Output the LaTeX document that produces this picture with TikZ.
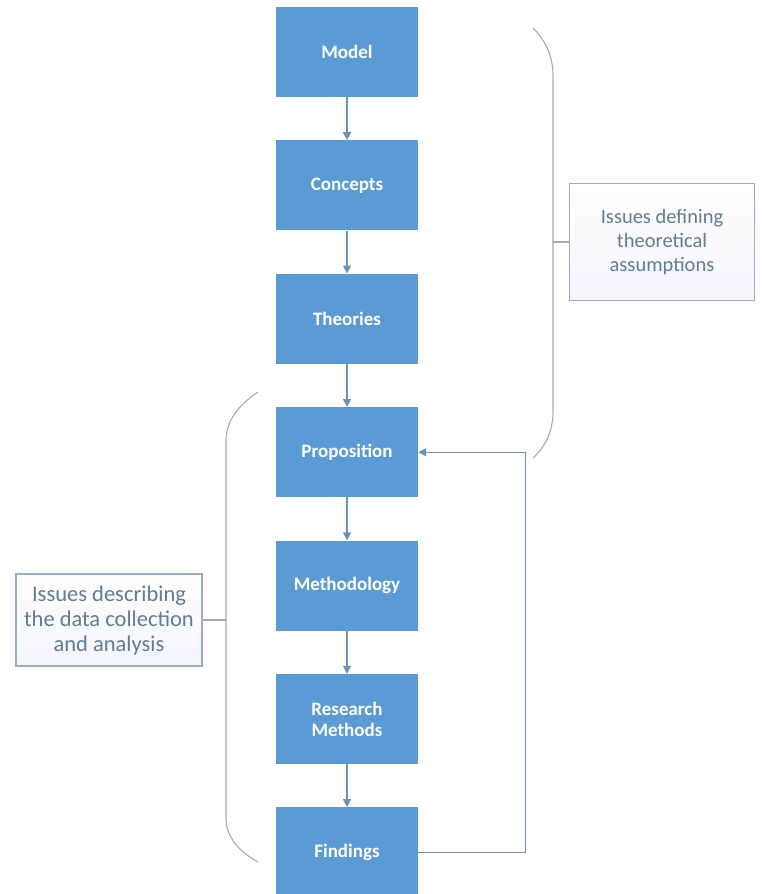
\documentclass[tikz,border=0pt]{standalone}
\usepackage{fontspec}
\setmainfont{Carlito}
\usetikzlibrary{arrows.meta,positioning,calc}
\definecolor{stageblue}{RGB}{91,155,213}
\definecolor{flowgrey}{RGB}{110,145,185}
\definecolor{bracegrey}{RGB}{170,170,170}
\definecolor{noteline}{RGB}{150,175,198}
\definecolor{notetext}{RGB}{95,125,150}

\begin{document}
\begin{tikzpicture}[x=1pt,y=-1pt,node distance=43pt,
   stage/.style={fill=stageblue,minimum width=142pt,minimum height=90pt,
                 align=center,text=white,font=\fontsize{19}{21}\selectfont\bfseries},
   flow/.style={-{Triangle[length=8pt,width=8pt]},draw=flowgrey,line width=1.3pt},
   brace/.style={draw=bracegrey,line width=1.1pt},
   note/.style={draw=noteline,line width=1.1pt,top color=white,bottom color=blue!4,
                align=center,text=notetext}]
  \useasboundingbox (0,0) rectangle (761,894);
  \node[stage] (model) at (347,52) {Model};
  \node[stage,below=of model] (concepts) {Concepts};
  \node[stage,below=of concepts] (theories) {Theories};
  \node[stage,below=of theories] (prop) {Proposition};
  \node[stage,below=of prop] (method) {Methodology};
  \node[stage,below=of method] (resmeth) {Research\\Methods};
  \node[stage,below=of resmeth] (findings) {Findings};
  \draw[flow] (model) -- (concepts);
  \draw[flow] (concepts) -- (theories);
  \draw[flow] (theories) -- (prop);
  \draw[flow] (prop) -- (method);
  \draw[flow] (method) -- (resmeth);
  \draw[flow] (resmeth) -- (findings);
  \draw[flow] (findings.east) -- ++(107,0) |- (prop.east);
  % callouts
  \node[note,minimum width=185pt,minimum height=117pt,font=\fontsize{20.5}{24}\selectfont]
       (theonote) at (662,242) {Issues defining\\theoretical\\assumptions};
  \node[note,minimum width=186pt,minimum height=92pt,font=\fontsize{22.5}{25}\selectfont]
       (datanote) at (109,620) {Issues describing\\the data collection\\and analysis};
  % brackets
  \coordinate (rbmid) at (553,242);
  \coordinate (lbmid) at (226,620);
  \draw[brace] (533,28) .. controls (547,42) and (553,58) .. (553,76) -- (553,412)
       .. controls (553,430) and (546,446) .. (533,458);
  \draw[brace] (rbmid) -- (theonote.west);
  \draw[brace] (258,392) .. controls (240,404) and (226,420) .. (226,440) -- (226,818)
       .. controls (226,838) and (240,852) .. (258,862);
  \draw[brace] (lbmid) -- (datanote.east);
\end{tikzpicture}
\end{document}
